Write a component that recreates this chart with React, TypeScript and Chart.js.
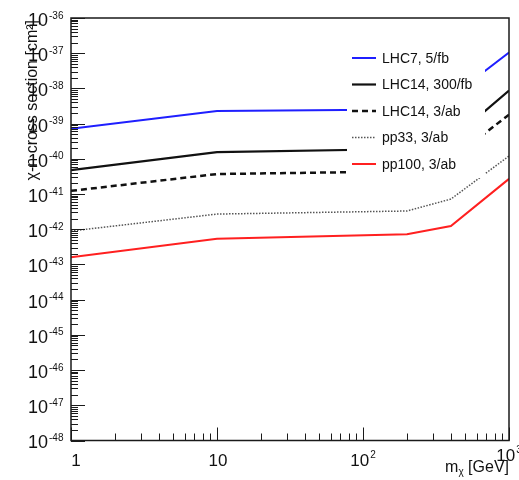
import { useEffect, useRef } from "react";
import { Chart, registerables } from "chart.js";

Chart.register(...registerables);

// Dark-matter mass points (GeV)
const massPoints = [1, 10, 200, 400, 1000];

// Cross-section reach per collider scenario (cm^2)
const lhc7_5fb = [7.1e-40, 2.3e-39, 2.5e-39, 5.7e-39, 1.05e-37];
const lhc14_300fb = [4.8e-41, 1.55e-40, 1.9e-40, 3.4e-40, 8.7e-39];
const lhc14_3ab = [1.23e-41, 3.7e-41, 4.4e-41, 9.5e-41, 1.8e-39];
const pp33_3ab = [8.9e-43, 2.7e-42, 3.3e-42, 7.2e-42, 1.2e-40];
const pp100_3ab = [1.6e-43, 5.4e-43, 7.2e-43, 1.23e-42, 2.7e-41];

const seriesLabels = ["LHC7, 5/fb", "LHC14, 300/fb", "LHC14, 3/ab", "pp33, 3/ab", "pp100, 3/ab"];

// Axis decades that carry labels
const xTickExponents = [0, 1, 2, 3];
const yTickExponents = [-48, -47, -46, -45, -44, -43, -42, -41, -40, -39, -38, -37, -36];

const xTitleMain = "m";
const xTitleSub = "χ";
const xTitleRest = " [GeV]";
const yTitle = "χ-n cross section [cm²]";

const FONT = "'Liberation Sans', Arial, Helvetica, sans-serif";

const toPoints = (ys: number[]) => ys.map((y, i) => ({ x: massPoints[i], y }));

const rootStylePlugin = {
  id: "rootStyle",
  afterDatasetsDraw(chart: any) {
    const ctx: CanvasRenderingContext2D = chart.ctx;
    ctx.save();
    // legend box (opaque, covers the curves behind it)
    ctx.fillStyle = "#ffffff";
    ctx.fillRect(347, 38, 138, 140);
    seriesLabels.forEach((label, i) => {
      const ds = chart.data.datasets[i];
      const y = 58 + i * 26.5;
      ctx.beginPath();
      ctx.strokeStyle = ds.borderColor;
      ctx.lineWidth = ds.borderWidth;
      ctx.setLineDash(ds.borderDash || []);
      ctx.moveTo(352, y);
      ctx.lineTo(376, y);
      ctx.stroke();
      ctx.setLineDash([]);
      ctx.fillStyle = "#111";
      ctx.font = `14px ${FONT}`;
      ctx.textAlign = "left";
      ctx.textBaseline = "middle";
      ctx.fillText(label, 382, y + 1);
    });
    ctx.restore();
  },
  afterDraw(chart: any) {
    const ctx: CanvasRenderingContext2D = chart.ctx;
    const area = chart.chartArea;
    const xs = chart.scales.x;
    const ys = chart.scales.y;
    ctx.save();

    // frame
    ctx.strokeStyle = "#1a1a1a";
    ctx.lineWidth = 1.5;
    ctx.strokeRect(area.left, area.top, area.right - area.left, area.bottom - area.top);

    // y ticks (inward, on the left edge)
    ctx.lineWidth = 1;
    ctx.beginPath();
    for (let e = yTickExponents[0]; e <= yTickExponents[yTickExponents.length - 1]; e++) {
      for (let k = 1; k <= 9; k++) {
        const v = k * Math.pow(10, e);
        if (e === yTickExponents[yTickExponents.length - 1] && k > 1) break;
        const py = Math.round(ys.getPixelForValue(v)) + 0.5;
        const len = k === 1 ? 14 : 7;
        ctx.moveTo(area.left, py);
        ctx.lineTo(area.left + len, py);
      }
    }
    // x ticks (inward, on the bottom edge)
    for (let e = xTickExponents[0]; e <= xTickExponents[xTickExponents.length - 1]; e++) {
      for (let k = 1; k <= 9; k++) {
        const v = k * Math.pow(10, e);
        if (e === xTickExponents[xTickExponents.length - 1] && k > 1) break;
        const px = Math.round(xs.getPixelForValue(v)) + 0.5;
        const len = k === 1 ? 13 : 7;
        ctx.moveTo(px, area.bottom);
        ctx.lineTo(px, area.bottom - len);
      }
    }
    ctx.stroke();

    ctx.fillStyle = "#111";

    // y tick labels: 10 with superscript exponent
    yTickExponents.forEach((e) => {
      const py = ys.getPixelForValue(Math.pow(10, e));
      ctx.font = `18px ${FONT}`;
      ctx.textAlign = "right";
      ctx.textBaseline = "middle";
      ctx.fillText("10", 48, py + 3);
      ctx.font = `10px ${FONT}`;
      ctx.textAlign = "left";
      ctx.textBaseline = "alphabetic";
      ctx.fillText(String(e), 49, py + 0.5);
    });

    // x tick labels
    xTickExponents.forEach((e) => {
      const px = xs.getPixelForValue(Math.pow(10, e));
      const lift = e === 3 ? 5 : 0;
      const cy = 461 - lift;
      ctx.textBaseline = "middle";
      if (e === 0) {
        ctx.font = `17px ${FONT}`;
        ctx.textAlign = "center";
        ctx.fillText("1", px + 5, cy);
      } else if (e === 1) {
        ctx.font = `17px ${FONT}`;
        ctx.textAlign = "center";
        ctx.fillText("10", px + 1, cy);
      } else {
        ctx.font = `17px ${FONT}`;
        const wBase = ctx.measureText("10").width;
        ctx.font = `10px ${FONT}`;
        const wSup = ctx.measureText(String(e)).width;
        const x0 = px - (wBase + wSup + 1) / 2;
        ctx.font = `17px ${FONT}`;
        ctx.textAlign = "left";
        ctx.fillText("10", x0, cy);
        ctx.font = `10px ${FONT}`;
        ctx.textBaseline = "alphabetic";
        ctx.fillText(String(e), x0 + wBase + 1, cy - 3);
      }
    });

    // x axis title, right-aligned to the axis end
    ctx.textBaseline = "alphabetic";
    ctx.textAlign = "left";
    ctx.font = `16px ${FONT}`;
    const wm = ctx.measureText(xTitleMain).width;
    const wr = ctx.measureText(xTitleRest).width;
    ctx.font = `10px ${FONT}`;
    const wsub = ctx.measureText(xTitleSub).width;
    const xStart = area.right - (wm + wsub + wr);
    ctx.font = `16px ${FONT}`;
    ctx.fillText(xTitleMain, xStart, 472);
    ctx.font = `10px ${FONT}`;
    ctx.fillText(xTitleSub, xStart + wm, 475);
    ctx.font = `16px ${FONT}`;
    ctx.fillText(xTitleRest, xStart + wm + wsub, 472);

    // y axis title, rotated, right-aligned to the axis top
    ctx.save();
    ctx.translate(37, area.top + 2);
    ctx.rotate(-Math.PI / 2);
    ctx.font = `16px ${FONT}`;
    ctx.textAlign = "right";
    ctx.textBaseline = "alphabetic";
    ctx.fillText(yTitle, 0, 0);
    ctx.restore();

    ctx.restore();
  },
};

export default function App() {
  const canvasRef = useRef<HTMLCanvasElement | null>(null);

  useEffect(() => {
    const canvas = canvasRef.current;
    if (!canvas) return;
    const chart = new Chart(canvas, {
      type: "line",
      data: {
        datasets: [
          { label: seriesLabels[0], data: toPoints(lhc7_5fb), borderColor: "#1f1fff", borderWidth: 2 },
          { label: seriesLabels[1], data: toPoints(lhc14_300fb), borderColor: "#111111", borderWidth: 2.2 },
          { label: seriesLabels[2], data: toPoints(lhc14_3ab), borderColor: "#111111", borderWidth: 2.5, borderDash: [6, 4] },
          { label: seriesLabels[3], data: toPoints(pp33_3ab), borderColor: "#555555", borderWidth: 1.5, borderDash: [1.5, 1.5] },
          { label: seriesLabels[4], data: toPoints(pp100_3ab), borderColor: "#ff2020", borderWidth: 2 },
        ] as any,
      },
      options: {
        animation: false,
        responsive: false,
        devicePixelRatio: 1,
        parsing: true,
        elements: { point: { radius: 0 }, line: { tension: 0 } },
        layout: { padding: { left: 71, top: 18, right: 10, bottom: 39.5 } },
        plugins: { legend: { display: false }, tooltip: { enabled: false } },
        scales: {
          x: {
            type: "logarithmic",
            min: 1,
            max: 1000,
            grid: { display: false },
            border: { display: false },
            ticks: { display: false },
            afterFit: (s: any) => { s.height = 0; },
          },
          y: {
            type: "logarithmic",
            min: 1e-48,
            max: 1e-36,
            grid: { display: false },
            border: { display: false },
            ticks: { display: false },
            afterFit: (s: any) => { s.width = 0; },
          },
        },
      } as any,
      plugins: [rootStylePlugin],
    });
    return () => chart.destroy();
  }, []);

  return (
    <div style={{ position: "fixed", left: 0, top: 0, width: 519, height: 480, background: "#fff" }}>
      <canvas ref={canvasRef} width={519} height={480} style={{ display: "block" }} />
    </div>
  );
}
